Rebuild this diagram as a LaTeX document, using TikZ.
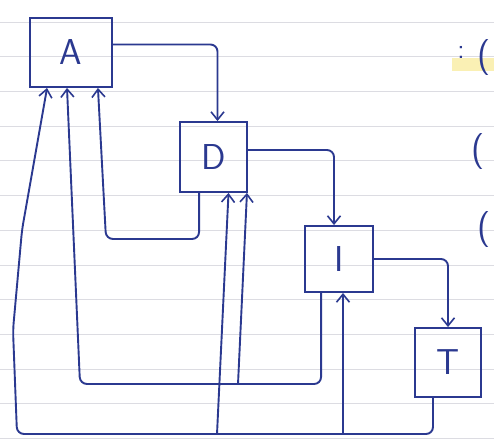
\documentclass[tikz,border=0pt]{standalone}
\usetikzlibrary{arrows.meta,calc}
\definecolor{pen}{HTML}{2B3990}
\definecolor{rulec}{HTML}{DCDCE2}
\definecolor{hilite}{HTML}{FAF0B4}
\begin{document}
\begin{tikzpicture}[x=1pt,y=-1pt,
  box/.style={draw=pen,line width=1.9pt,inner sep=0pt,text=pen,
    font=\sffamily\fontsize{36}{36}\selectfont},
  arr/.style={draw=pen,line width=1.9pt,rounded corners=7pt,
    -{Straight Barb[length=8pt,width=13pt,line width=1.6pt]}},
  scrib/.style={text=pen,inner sep=0pt,font=\sffamily\fontsize{36}{36}\selectfont}]
\useasboundingbox (0,0) rectangle (494,445);
\fill[white] (0,0) rectangle (494,445);
\foreach \k in {0,...,12} \draw[rulec,line width=0.8pt] (0,22+34.7*\k) -- (494,22+34.7*\k);
\fill[hilite] (452,58) rectangle (494,71);
% boxes
\node[box,minimum width=82pt,minimum height=69pt] (A) at (71,52.5) {A};
\node[box,minimum width=67pt,minimum height=70pt] (D) at (213.5,157) {D};
\node[box,minimum width=68pt,minimum height=66pt] (I) at (339,259) {I};
\node[box,minimum width=66pt,minimum height=69pt] (T) at (448,362.5) {T};
% forward
\draw[arr] ($(A.east)+(0,-8)$) -| ($(D.north)+(4,0)$);
\draw[arr] ($(D.east)+(0,-7)$) -| ($(I.north)+(-5,0)$);
\draw[arr] (I.east) -| (T.north);
% feedback
\coordinate (b1) at (17,434);
\coordinate (b2) at (80,384);
\coordinate (b3) at (106,239);
\coordinate (j1) at (217,434);
\coordinate (j2) at (238,384);
\coordinate (j3) at (343,434);
\draw[arr] ($(T.south)+(-15,0)$) |- (b1) -- (13,330) -- (22,230) -- ($(A.south west)+(18,0)$);
\draw[arr] ($(I.south west)+(17,0)$) |- (b2) -- ($(A.south)+(-4,0)$);
\draw[arr] ($(D.south west)+(20,0)$) |- (b3) -- ($(A.south east)+(-15,0)$);
\draw[arr] (j1) -- ($(D.south)+(15,0)$);
\draw[arr] (j2) -- ($(D.south east)+(-1,0)$);
\draw[arr] (j3) -- ($(I.south)+(4,0)$);
% margin scribbles
\node[text=pen,inner sep=0pt,font=\sffamily\fontsize{28}{28}\selectfont] (c1) at (461,52) {:};
\node[scrib] (p1) at (484,58) {(};
\node[scrib] (p2) at (478,152) {(};
\node[scrib] (p3) at (484,230) {(};
\end{tikzpicture}
\end{document}
